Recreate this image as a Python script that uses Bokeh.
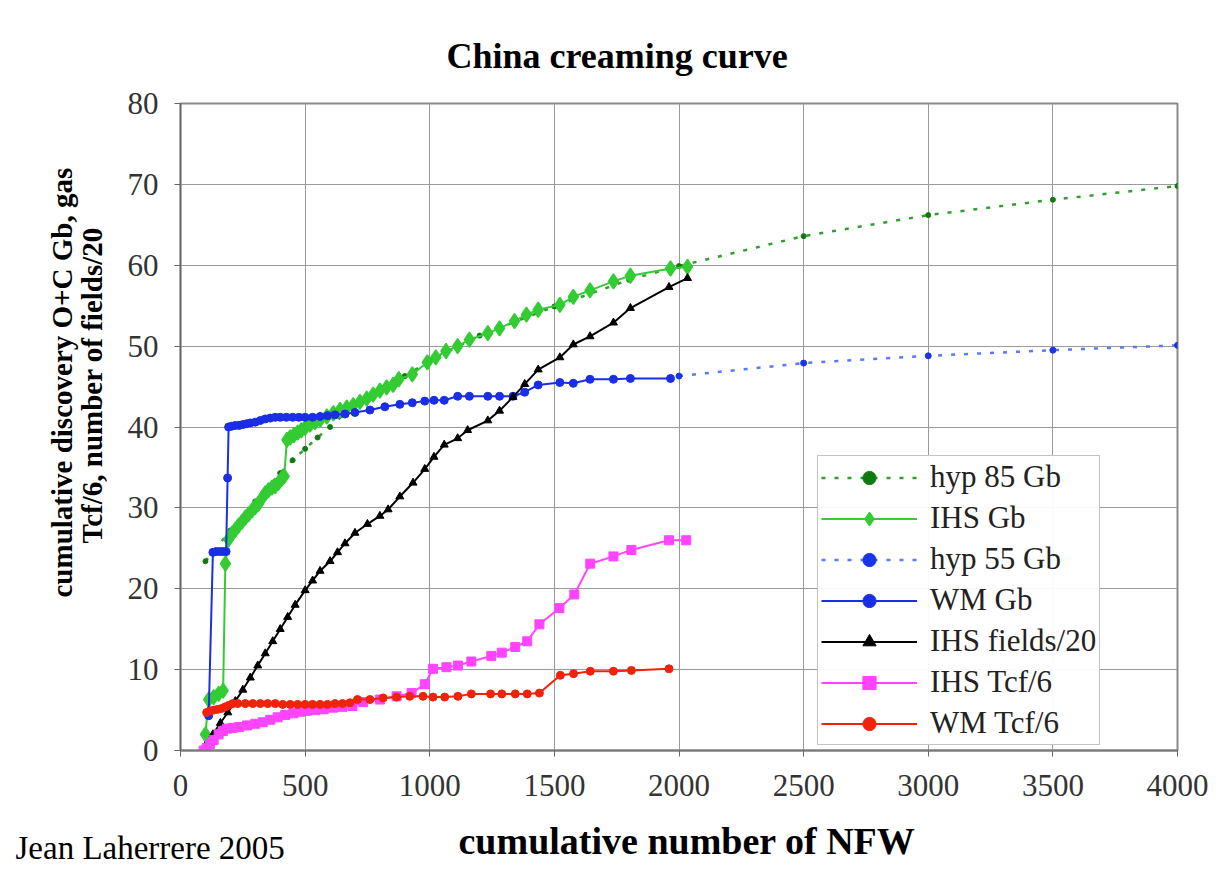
import math
from bokeh.plotting import figure
from bokeh.models import Legend, LegendItem, FixedTicker, Range1d, Title
from bokeh.embed import file_html
from bokeh.resources import INLINE

# ---------------- data ----------------
hyp85_x = [100, 200, 300, 400, 450, 500, 550, 600, 700, 800, 900, 1000, 1200, 1500, 1800, 2000, 2500, 3000, 3500, 4000]
hyp85_y = [23.4, 27.2, 30.8, 34.3, 35.9, 37.3, 38.7, 40.0, 42.8, 44.5, 46.3, 48.2, 51.3, 54.9, 58.2, 59.9, 63.6, 66.2, 68.1, 69.8]

ihs_gb_x = [100, 113, 133, 153, 171, 180, 193, 207, 220, 233, 247, 260, 273, 287, 300, 313, 327, 340, 353, 367,
            380, 393, 406, 416, 427, 440, 455, 470, 485, 500, 520, 540, 560, 587, 613, 640, 667, 693, 720, 747,
            773, 800, 827, 853, 876, 930, 990, 1024, 1065, 1112, 1159, 1233, 1280, 1340, 1388, 1435, 1522, 1576,
            1643, 1737, 1805, 1966, 2034]
ihs_gb_y = [2.0, 6.3, 6.6, 7.0, 7.4, 23.1, 26.1, 26.8, 27.3, 27.8, 28.3, 28.8, 29.2, 29.7, 30.1, 30.5, 31.2, 31.8, 32.2, 32.5,
            32.7, 33.1, 33.6, 33.9, 38.4, 38.7, 39.0, 39.3, 39.6, 39.9, 40.3, 40.6, 40.9, 41.3, 41.7, 42.1, 42.4, 42.7, 43.1, 43.5,
            44.0, 44.5, 44.9, 45.2, 45.9, 46.5, 48.0, 48.6, 49.4, 50.0, 50.8, 51.6, 52.2, 53.1, 53.9, 54.5, 55.1, 56.1,
            56.9, 58.0, 58.7, 59.6, 59.8]

hyp55_x = [2000, 2500, 3000, 3500, 4000]
hyp55_y = [46.3, 47.9, 48.8, 49.5, 50.1]

wm_gb_x = [113, 130, 143, 157, 170, 183, 189, 193, 205, 220, 235, 250, 265, 280, 300, 320, 340, 360, 380, 400,
           425, 450, 475, 500, 530, 560, 590, 620, 660, 700, 760, 820, 880, 930, 980, 1017, 1058, 1112, 1159, 1233,
           1280, 1334, 1381, 1435, 1522, 1576, 1643, 1737, 1805, 1966]
wm_gb_y = [4.3, 24.5, 24.6, 24.6, 24.6, 24.6, 33.7, 40.0, 40.1, 40.2, 40.2, 40.3, 40.4, 40.5, 40.6, 40.8, 41.0, 41.1, 41.2, 41.2,
           41.2, 41.2, 41.2, 41.2, 41.2, 41.3, 41.4, 41.5, 41.6, 41.8, 42.1, 42.5, 42.8, 43.0, 43.2, 43.3, 43.3, 43.8, 43.8, 43.8,
           43.8, 43.8, 44.3, 45.2, 45.5, 45.4, 45.9, 45.9, 46.0, 46.0]

fields_x = [100, 130, 160, 190, 220, 250, 280, 310, 340, 370, 400, 430, 460, 500, 530, 560, 600, 630, 660, 700,
            750, 800, 833, 880, 933, 980, 1017, 1058, 1112, 1152, 1233, 1280, 1334, 1381, 1435, 1522, 1576, 1643,
            1737, 1805, 1960, 2034]
fields_y = [0.6, 2.0, 3.4, 4.7, 6.1, 7.5, 9.0, 10.5, 12.0, 13.5, 15.0, 16.5, 18.0, 19.8, 21.0, 22.2, 23.4, 24.5, 25.6, 26.9,
            28.0, 29.0, 29.8, 31.4, 33.1, 34.8, 36.3, 37.8, 38.6, 39.6, 40.8, 42.0, 43.7, 45.3, 47.1, 48.6, 50.2, 51.2,
            52.9, 54.7, 57.3, 58.4]

ihs_tcf_x = [93, 105, 118, 133, 153, 170, 187, 210, 235, 267, 300, 330, 360, 390, 420, 453, 480, 507, 540, 575,
             613, 650, 690, 733, 800, 867, 927, 980, 1013, 1067, 1113, 1167, 1247, 1289, 1343, 1391, 1440, 1520,
             1580, 1644, 1737, 1809, 1960, 2029]
ihs_tcf_y = [0.0, 0.3, 0.8, 1.3, 2.0, 2.4, 2.7, 2.8, 2.9, 3.1, 3.3, 3.5, 3.8, 4.1, 4.4, 4.6, 4.8, 4.9, 5.0, 5.1,
             5.3, 5.4, 5.5, 6.0, 6.3, 6.7, 7.1, 8.2, 10.1, 10.3, 10.5, 11.0, 11.7, 12.1, 12.8, 13.5, 15.6, 17.6,
             19.3, 23.1, 24.0, 24.8, 26.0, 26.0]

wm_tcf_x = [105, 120, 135, 150, 165, 180, 195, 210, 230, 260, 290, 320, 350, 380, 410, 440, 470, 500, 530, 560,
            590, 620, 650, 680, 710, 760, 813, 867, 920, 973, 1013, 1060, 1113, 1167, 1244, 1289, 1343, 1391, 1440,
            1524, 1577, 1644, 1737, 1809, 1960]
wm_tcf_y = [4.7, 4.9, 5.0, 5.1, 5.2, 5.4, 5.6, 5.8, 5.8, 5.8, 5.8, 5.8, 5.8, 5.8, 5.7, 5.7, 5.7, 5.7, 5.7, 5.7,
            5.7, 5.8, 5.8, 5.9, 6.3, 6.3, 6.5, 6.6, 6.7, 6.7, 6.6, 6.6, 6.7, 7.0, 7.0, 7.0, 7.0, 7.0, 7.1,
            9.3, 9.5, 9.8, 9.8, 9.9, 10.1]

x_ticks = [0, 500, 1000, 1500, 2000, 2500, 3000, 3500, 4000]
y_ticks = [0, 10, 20, 30, 40, 50, 60, 70, 80]

title_text = "China creaming curve"
xlabel_text = "cumulative number of NFW"
ylabel_line1 = "cumulative discovery O+C Gb, gas"
ylabel_line2 = "Tcf/6, number of fields/20"
credit_text = "Jean Laherrere 2005"

FONT = "Liberation Serif"

# ---------------- figure ----------------
p = figure(width=1211, height=866, x_range=Range1d(0, 4000), y_range=Range1d(0, 80),
           output_backend="svg", toolbar_location=None,
           min_border_left=180, min_border_right=34, min_border_top=103, min_border_bottom=116)
p.background_fill_color = "white"
p.border_fill_color = "white"
p.outline_line_color = "#8a8a8a"
p.outline_line_width = 2
p.styles = {"outline": "1px solid #c4c4c4", "outline-offset": "-2px"}

p.xaxis.ticker = FixedTicker(ticks=x_ticks)
p.yaxis.ticker = FixedTicker(ticks=y_ticks)
p.xaxis.minor_tick_line_color = None
p.yaxis.minor_tick_line_color = None
for ax in (p.xaxis, p.yaxis):
    ax.major_label_text_font = FONT
    ax.major_label_text_font_size = "31px"
    ax.major_label_text_color = "#333333"
    ax.major_tick_out = 6
    ax.major_tick_in = 0
    ax.major_tick_line_color = "#666666"
    ax.axis_line_color = "#666666"
    ax.axis_line_width = 1.5
p.xaxis.major_label_standoff = 18
p.yaxis.major_label_standoff = 16
p.xaxis.axis_line_width = 2
p.xaxis.axis_line_color = "#7a7a7a"
# blank spacer below the tick labels so that the two bottom texts share a row
p.xaxis.axis_label = " "
p.xaxis.axis_label_text_font_size = "10px"
p.xaxis.axis_label_standoff = 20

p.xgrid.ticker = FixedTicker(ticks=x_ticks)
p.ygrid.ticker = FixedTicker(ticks=y_ticks)
p.grid.grid_line_color = "#9a9a9a"
p.grid.grid_line_width = 1

# ---------------- titles (real text outside the frame) ----------------
p.title = Title(text=title_text, align="left", offset=266, standoff=56,
                text_font=FONT, text_font_size="36px", text_font_style="bold", text_color="black")

t2 = Title(text=ylabel_line2, align="left", offset=207, standoff=33,
           text_font=FONT, text_font_size="29px", text_font_style="bold", text_color="black")
t1 = Title(text=ylabel_line1, align="left", offset=153, standoff=-40,
           text_font=FONT, text_font_size="29px", text_font_style="bold", text_color="black")
p.add_layout(t2, "left")
p.add_layout(t1, "left")

tx = Title(text=xlabel_text, align="left", offset=278, standoff=-30,
           text_font=FONT, text_font_size="38px", text_font_style="bold", text_color="black")
tc = Title(text=credit_text, align="left", offset=-165, standoff=-37,
           text_font=FONT, text_font_size="33px", text_font_style="normal", text_color="black")
p.add_layout(tx, "below")
p.add_layout(tc, "below")

# ---------------- series ----------------
items = []

l1 = p.line(hyp85_x, hyp85_y, line_color="#2e9e2e", line_width=2.5, line_dash="4 9")
s1 = p.scatter(hyp85_x, hyp85_y, marker="circle", size=5, fill_color="#0f7a0f", line_color="#0f7a0f")
items.append(LegendItem(label="hyp 85 Gb", renderers=[l1, s1]))

l2 = p.line(ihs_gb_x, ihs_gb_y, line_color="#33cc33", line_width=2)
s2 = p.scatter(ihs_gb_x, ihs_gb_y, marker="diamond", size=15, fill_color="#33cc33", line_color="#33cc33", line_width=1.5)
items.append(LegendItem(label="IHS Gb", renderers=[l2, s2]))

l3 = p.line(hyp55_x, hyp55_y, line_color="#5a78ff", line_width=2.5, line_dash="4 9")
s3 = p.scatter(hyp55_x, hyp55_y, marker="circle", size=6, fill_color="#1a35e8", line_color="#1a35e8")
items.append(LegendItem(label="hyp 55 Gb", renderers=[l3, s3]))

l4 = p.line(wm_gb_x, wm_gb_y, line_color="#1a2ee6", line_width=2)
s4 = p.scatter(wm_gb_x, wm_gb_y, marker="circle", size=8, fill_color="#1a2ee6", line_color="#1a2ee6")
items.append(LegendItem(label="WM Gb", renderers=[l4, s4]))

l5 = p.line(fields_x, fields_y, line_color="black", line_width=2)
s5 = p.scatter(fields_x, fields_y, marker="triangle", size=8, fill_color="black", line_color="black")
items.append(LegendItem(label="IHS fields/20", renderers=[l5, s5]))

l6 = p.line(ihs_tcf_x, ihs_tcf_y, line_color="#ff44ff", line_width=2)
s6 = p.scatter(ihs_tcf_x, ihs_tcf_y, marker="square", size=9, fill_color="#ff44ff", line_color="#ff44ff")
items.append(LegendItem(label="IHS Tcf/6", renderers=[l6, s6]))

l7 = p.line(wm_tcf_x, wm_tcf_y, line_color="#f0220a", line_width=2)
s7 = p.scatter(wm_tcf_x, wm_tcf_y, marker="circle", size=8, fill_color="#f0220a", line_color="#f0220a")
items.append(LegendItem(label="WM Tcf/6", renderers=[l7, s7]))

legend = Legend(items=items, location=(637, 5))
legend.label_text_font = FONT
legend.label_text_font_size = "31px"
legend.label_text_color = "#222222"
legend.glyph_width = 96
legend.glyph_height = 33
legend.label_height = 33
legend.spacing = 5
legend.padding = 3
legend.margin = 0
legend.label_standoff = 13
legend.border_line_color = "#888888"
legend.border_line_width = 1.5
legend.background_fill_color = "white"
p.add_layout(legend, "center")

open("out.html", "w").write(file_html(p, INLINE))
